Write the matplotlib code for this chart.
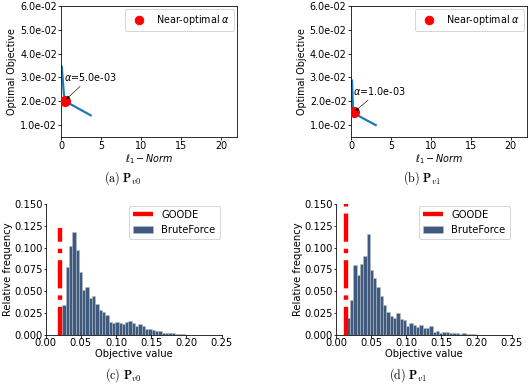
import numpy as np
import matplotlib
matplotlib.use("Agg")
import matplotlib.pyplot as plt
from matplotlib.ticker import FormatStrFormatter

plt.rcParams['font.size'] = 9.6

# top row: l1-norm vs optimal objective (L-curve)
l1_v0 = [0.04, 0.29, 0.4, 0.75, 3.66]
obj_v0 = [0.0345, 0.0233, 0.0202, 0.0195, 0.0141]
l1_v1 = [0.13, 0.25, 0.34, 0.76, 3.1]
obj_v1 = [0.0287, 0.0168, 0.0153, 0.0142, 0.0100]

alpha_v0 = 5.0e-03
alpha_v1 = 1.0e-03
best_v0 = (0.4, 0.0202)
best_v1 = (0.34, 0.0153)
txt_v0 = (0.3, 0.0302)
txt_v1 = (0.2, 0.0244)

# bottom row: relative frequencies of brute force objective values
bin_w = 0.0047
start_v0 = 0.0236
freq_v0 = [0.0344, 0.078, 0.102, 0.1176, 0.097, 0.0725, 0.0515, 0.055, 0.0425,
           0.0443, 0.0358, 0.029, 0.0267, 0.0229, 0.0147, 0.0137, 0.0145, 0.0134,
           0.0122, 0.0145, 0.0156, 0.0134, 0.0103, 0.0126, 0.0103, 0.0065, 0.0065,
           0.0057, 0.005, 0.005, 0.0027, 0.0027, 0.0019, 0.0019, 0.0011, 0.0009,
           0.0006, 0.0004]
goode_v0 = 0.0200
goode_top_v0 = 0.122

start_v1 = 0.0152
freq_v1 = [0.019, 0.040, 0.080, 0.0687, 0.081, 0.0905, 0.1155, 0.0748, 0.065,
           0.0545, 0.0447, 0.0344, 0.0258, 0.022, 0.0198, 0.0248, 0.0179, 0.0172,
           0.0103, 0.0141, 0.0115, 0.0088, 0.0115, 0.0084, 0.0084, 0.0103, 0.0038,
           0.005, 0.0027, 0.003, 0.003, 0.0019, 0.0019, 0.0019, 0.0015, 0.0019,
           0.001, 0.0008, 0.0008, 0.0004]
goode_v1 = 0.0147
goode_top_v1 = 0.15

fig = plt.figure(figsize=(531 / 72, 389 / 72), dpi=72)

ax_a = fig.add_axes([0.1158, 0.6478, 0.3305, 0.3368])
ax_b = fig.add_axes([0.6610, 0.6478, 0.3309, 0.3368])
ax_c = fig.add_axes([0.0861, 0.1388, 0.3314, 0.3368])
ax_d = fig.add_axes([0.6328, 0.1388, 0.3309, 0.3368])


def lcurve(ax, l1, obj, best, alpha, txt):
    ax.plot(l1, obj, color='#1f77b4', lw=2.2)
    ax.scatter([best[0]], [best[1]], s=100, color='red', zorder=3,
               label=r'Near-optimal $\alpha$')
    ax.annotate(r'$\alpha$=%.1e' % alpha, xy=best, xytext=txt,
                ha='left', va='center',
                arrowprops=dict(arrowstyle='-|>', color='black', lw=0.6,
                                mutation_scale=7))
    ax.set_xlim(0, 22)
    ax.set_ylim(0.005, 0.06)
    ax.set_yticks([0.01, 0.02, 0.03, 0.04, 0.05, 0.06])
    ax.yaxis.set_major_formatter(FormatStrFormatter('%.1e'))
    ax.set_xticks([0, 5, 10, 15, 20])
    ax.tick_params(axis='x', length=3, pad=1)
    ax.tick_params(axis='y', length=3, pad=1.5)
    ax.set_xlabel(r'$\ell_1 - Norm$', labelpad=1)
    ax.set_ylabel('Optimal Objective', labelpad=3)
    ax.legend(loc='upper right', markerscale=0.85, borderaxespad=0.3)


def histo(ax, start, freq, goode, top):
    edges = start + bin_w * np.arange(len(freq) + 1)
    ax.plot([goode, goode], [0, top], '-.', color='red', lw=4.4, zorder=3,
            label='GOODE')
    ax.hist(edges[:-1], bins=edges, weights=freq, color='#3f5a7c',
            edgecolor='#b4bfcc', linewidth=0.5, label='BruteForce')
    ax.set_xlim(0, 0.25)
    ax.set_ylim(0, 0.15)
    ax.set_yticks([0, 0.025, 0.05, 0.075, 0.1, 0.125, 0.15])
    ax.yaxis.set_major_formatter(FormatStrFormatter('%.3f'))
    ax.tick_params(labelsize=10, length=2.5, pad=0.5)
    ax.spines['top'].set_visible(False)
    ax.spines['right'].set_visible(False)
    ax.set_xlabel('Objective value', fontsize=10, labelpad=1)
    ax.set_ylabel('Relative frequency', fontsize=10, labelpad=1)
    ax.legend(loc='upper right', borderaxespad=0.2, fontsize=10)


lcurve(ax_a, l1_v0, obj_v0, best_v0, alpha_v0, txt_v0)
lcurve(ax_b, l1_v1, obj_v1, best_v1, alpha_v1, txt_v1)
histo(ax_c, start_v0, freq_v0, goode_v0, goode_top_v0)
histo(ax_d, start_v1, freq_v1, goode_v1, goode_top_v1)

cap = dict(ha='center', va='center', fontsize=12, math_fontfamily='cm')
fig.text(0.2316, 0.5424, r'$\mathrm{(a)}\ \mathbf{P}_{v0}$', **cap)
fig.text(0.7940, 0.5424, r'$\mathrm{(b)}\ \mathbf{P}_{v1}$', **cap)
fig.text(0.2316, 0.0360, r'$\mathrm{(c)}\ \mathbf{P}_{v0}$', **cap)
fig.text(0.7680, 0.0360, r'$\mathrm{(d)}\ \mathbf{P}_{v1}$', **cap)

fig.savefig('out.png', dpi=72)
